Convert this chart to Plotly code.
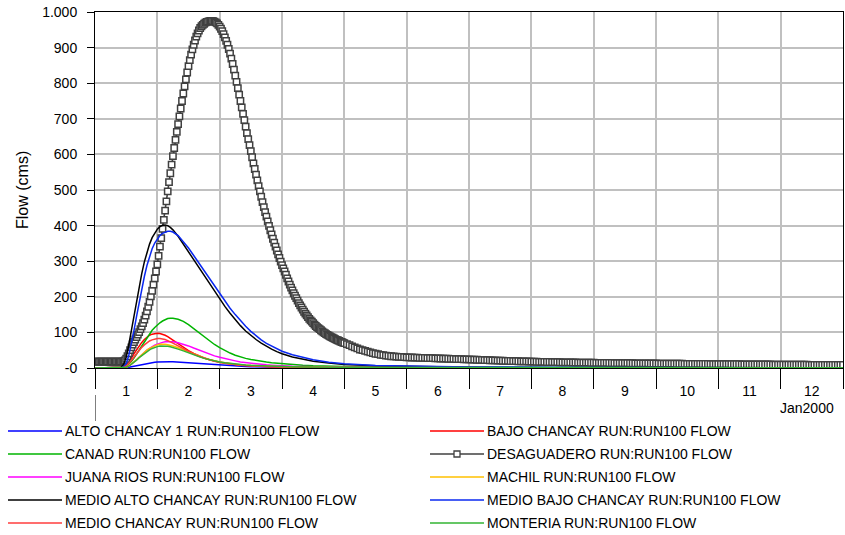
import numpy as np
import pandas as pd
import plotly.graph_objects as go

START = pd.Timestamp("2000-01-01")
DAYS = list(range(1, 13))

# ---------------- data (hours since 1 Jan 2000 00:00, flow in cms) ----------------
hours_lines = [0, 10, 11, 12, 13, 14, 15, 16, 17, 18, 19, 20, 21, 22, 23, 24, 25, 26, 27, 28, 29, 30,
               32, 34, 36, 38, 40, 42, 44, 46, 48, 50, 52, 54, 56, 58, 60, 62, 64, 66, 68, 70, 72,
               76, 80, 84, 90, 96, 108, 120, 144, 192, 288]

alto_chancay_1 = [0, 0, 0.2, 0.8, 2, 3.5, 5, 7, 9, 10.5, 12, 13.5, 14.5, 15.5, 16.3, 17, 17.5, 17.8, 18, 18, 17.8, 17.5,
                  16.5, 15.3, 14, 12.7, 11.4, 10.2, 9, 8, 7.1, 6.3, 5.6, 5, 4.4, 3.9, 3.5, 3.1, 2.8, 2.5, 2.2, 2, 1.8,
                  1.5, 1.2, 1, 0.8, 0.6, 0.45, 0.35, 0.25, 0.15, 0.1]
bajo_chancay = [0, 0, 2, 8, 17, 28, 40, 52, 63, 72, 80, 87, 92, 95, 97, 97.5, 97, 95, 92, 88, 83, 78,
                68, 58, 49, 41, 34, 28, 23, 19, 16, 13.5, 11, 9.5, 8, 7, 6, 5.3, 4.7, 4.2, 3.8, 3.4, 3,
                2.6, 2.3, 2, 1.5, 1.2, 0.9, 0.7, 0.5, 0.3, 0.2]
canad = [0, 0, 1, 4, 10, 18, 28, 39, 51, 63, 75, 86, 97, 106, 114, 121, 127, 132, 136, 139, 140, 140,
         137, 131, 122, 111, 99, 87, 76, 66, 57, 49, 42, 36, 31, 27, 24, 21, 19, 17, 15, 13.5, 12,
         10, 8, 6.5, 5, 4, 3, 2.3, 1.6, 1, 0.6]
juana_rios = [0, 0, 0.5, 2, 5, 10, 16, 23, 30, 37, 44, 50, 55, 60, 64, 67, 70, 72, 73.5, 74, 74, 73.5,
              71, 67, 62, 56, 50, 44, 39, 34, 30, 26, 23, 20, 17, 15, 13, 11.5, 10.2, 9, 8, 7, 6.2,
              5, 4.2, 3.5, 2.7, 2.1, 1.5, 1.1, 0.8, 0.5, 0.3]
machil = [0, 0, 0.5, 2, 6, 11, 17, 24, 31, 38, 44, 50, 55, 59, 62.5, 65, 66.5, 67, 66.5, 65.5, 64, 62,
          57, 51, 45, 39, 33, 28, 24, 20, 17, 14.5, 12, 10.5, 9, 8, 7, 6.2, 5.5, 5, 4.4, 3.9, 3.5,
          2.9, 2.4, 2, 1.6, 1.3, 0.9, 0.7, 0.5, 0.3, 0.2]
medio_alto_chancay = [0, 2, 10, 30, 65, 105, 148, 190, 230, 265, 298, 325, 348, 366, 380, 390, 397, 401, 402, 400, 395, 388,
                      370, 348, 325, 302, 280, 258, 236, 214, 193, 173, 154, 136, 119, 104, 91, 80, 70, 61, 53, 46, 40,
                      31, 24, 19, 14, 10, 6, 4, 2, 1, 0.5]
medio_bajo_chancay = [0, 0, 3, 12, 35, 68, 105, 145, 185, 222, 257, 288, 314, 335, 351, 363, 372, 378, 382, 384, 384, 382,
                      372, 356, 337, 316, 295, 273, 251, 229, 208, 188, 168, 150, 133, 117, 103, 90, 79, 69, 61, 53, 47,
                      37, 29, 23, 16, 12, 7, 5, 3, 1.5, 0.7]
medio_chancay = [0, 0, 1, 5, 12, 21, 31, 41, 50, 58, 65, 71, 76, 79, 81.5, 83, 83, 82, 80, 77, 74, 70,
                 62, 54, 46, 39, 33, 28, 23, 19, 16, 13.5, 11, 9.5, 8, 7, 6, 5.3, 4.7, 4.2, 3.8, 3.4, 3,
                 2.6, 2.3, 2, 1.5, 1.2, 0.9, 0.7, 0.5, 0.3, 0.2]
monteria = [0, 0, 0.5, 2, 5, 10, 16, 22, 29, 35, 41, 46, 51, 55, 58, 60, 61.5, 62, 62, 61, 59.5, 58,
            53, 48, 42, 37, 32, 27, 23, 20, 17, 14.5, 12.5, 11, 9.5, 8.5, 7.5, 6.8, 6.1, 5.5, 5, 4.5, 4.1,
            3.5, 3, 2.6, 2.2, 1.9, 1.5, 1.3, 1, 0.7, 0.5]

# DESAGUADERO: half-hourly values from hour 0.0 to hour 96.0
desaguadero_halfhourly = [18] * 21 + [
    18, 19, 21, 26, 33, 41, 50, 58, 66, 73, 80, 87, 94, 101, 109, 117, 126, 136, 147, 159,
    172, 186, 201, 217, 234, 252, 271, 291, 315, 341, 365, 391, 416, 442, 468, 496, 522, 547, 571, 595,
    618, 641, 663, 685, 707, 729, 750, 771, 791, 811, 830, 848, 865, 880, 895, 908, 920, 931, 940, 948,
    955, 960, 964, 967, 970, 972, 973, 974, 975, 975, 974, 973, 971, 968, 964, 959, 953, 946, 938, 929,
    919, 908, 896, 883, 869, 854, 838, 821, 804, 786, 768, 750, 732, 714, 696, 678, 660, 643, 626, 609,
    592, 575, 559, 543, 527, 511, 496, 481, 466, 452, 438, 425, 412, 399, 387, 375, 363, 352, 341, 330,
    319, 309, 299, 289, 280, 271, 262, 252, 243, 234, 226, 218, 210, 203, 196, 189, 182, 176, 170, 164,
    158, 153, 148, 143, 138, 134, 130, 126, 122, 118, 115, 112, 109, 106, 103, 100, 98, 95, 93, 91,
    89, 87, 85, 83, 81, 79, 78, 76, 74, 73, 71, 70]
# DESAGUADERO: hourly values from hour 97 to hour 288
desaguadero_hourly = [
    67, 64, 61, 58, 55, 52, 50, 48, 46, 44, 42, 40, 39, 37, 36, 35, 34, 33, 32.5, 32, 31.5, 31, 30.5, 30,
    29.7, 29.5, 29.2, 29, 28.7, 28.5, 28.2, 28, 27.7, 27.5, 27.2, 27, 26.7, 26.5, 26.2, 26, 25.7, 25.5, 25.2, 25, 24.7, 24.5, 24.2, 24,
    23.7, 23.5, 23.2, 23, 22.7, 22.4, 22.1, 21.8, 21.5, 21.2, 20.9, 20.6, 20.4, 20.1, 19.9, 19.6, 19.4, 19.2, 19, 18.8, 18.6, 18.4, 18.2, 18,
    17.8, 17.6, 17.4, 17.3, 17.1, 16.9, 16.8, 16.6, 16.5, 16.3, 16.2, 16, 15.9, 15.8, 15.6, 15.5, 15.4, 15.3, 15.2, 15.1, 15, 14.9, 14.8, 14.7,
    14.6, 14.5, 14.4, 14.3, 14.2, 14.1, 14, 13.9, 13.8, 13.7, 13.6, 13.5, 13.5, 13.4, 13.3, 13.2, 13.1, 13.1, 13, 12.9, 12.8, 12.7, 12.7, 12.6,
    12.5, 12.4, 12.4, 12.3, 12.2, 12.1, 12.1, 12, 11.9, 11.9, 11.8, 11.7, 11.7, 11.6, 11.5, 11.5, 11.4, 11.3, 11.3, 11.2, 11.1, 11.1, 11, 10.9,
    10.9, 10.8, 10.8, 10.7, 10.6, 10.6, 10.5, 10.5, 10.4, 10.3, 10.3, 10.2, 10.2, 10.1, 10.1, 10, 9.9, 9.9, 9.8, 9.8, 9.7, 9.7, 9.6, 9.6,
    9.5, 9.5, 9.4, 9.4, 9.3, 9.3, 9.2, 9.2, 9.1, 9.1, 9, 9, 8.9, 8.9, 8.8, 8.8, 8.8, 8.7, 8.7, 8.6, 8.6, 8.5, 8.5, 8.5]

series_names = ["ALTO CHANCAY 1 RUN:RUN100 FLOW", "BAJO CHANCAY RUN:RUN100 FLOW", "CANAD RUN:RUN100 FLOW",
                "DESAGUADERO RUN:RUN100 FLOW", "JUANA RIOS RUN:RUN100 FLOW", "MACHIL RUN:RUN100 FLOW",
                "MEDIO ALTO CHANCAY RUN:RUN100 FLOW", "MEDIO BAJO CHANCAY RUN:RUN100 FLOW",
                "MEDIO CHANCAY RUN:RUN100 FLOW", "MONTERIA RUN:RUN100 FLOW"]
series_colors = ["#0000FF", "#FF0000", "#00B400", "#404040", "#FF00FF", "#FFC000",
                 "#000000", "#0A28F0", "#FF3C3C", "#32B432"]

y_tickvals = [0, 100, 200, 300, 400, 500, 600, 700, 800, 900, 1000]
y_ticktext = ["-0", "100", "200", "300", "400", "500", "600", "700", "800", "900", "1.000"]

# ---------------- build ----------------
assert len(desaguadero_halfhourly) == 193 and len(desaguadero_hourly) == 192


def to_time(hours):
    return [START + pd.Timedelta(hours=float(h)) for h in hours]


t_lines = to_time(hours_lines)
desag_hours = list(np.arange(0, 96.5, 0.5)) + list(range(97, 289))
t_desag = to_time(desag_hours)
desag_vals = desaguadero_halfhourly + desaguadero_hourly

line_data = [alto_chancay_1, bajo_chancay, canad, None, juana_rios, machil,
             medio_alto_chancay, medio_bajo_chancay, medio_chancay, monteria]

FONT = "Liberation Sans, Arial, sans-serif"
fig = go.Figure()
for name, col, vals in zip(series_names, series_colors, line_data):
    if vals is None:
        fig.add_trace(go.Scatter(x=t_desag, y=desag_vals, mode="lines+markers", name=name,
                                 line=dict(color=col, width=1.6),
                                 marker=dict(symbol="square", size=6.3, color="white",
                                             line=dict(color=col, width=1.5)),
                                 showlegend=False))
    else:
        fig.add_trace(go.Scatter(x=t_lines, y=vals, mode="lines", name=name,
                                 line=dict(color=col, width=1.5), showlegend=False))

L, R, T, B = 95, 843, 12, 368
W, H = R - L, B - T


def px_x(px):
    return (px - L) / W


def px_y(py):
    return (B - py) / H


shapes = []
annotations = []
rows_y = [431, 454, 477, 500, 523]
for i, (name, col) in enumerate(zip(series_names, series_colors)):
    col_i, row_i = i % 2, i // 2
    x0, x1, xt = (8, 62, 63) if col_i == 0 else (430, 484, 485)
    y = rows_y[row_i]
    shapes.append(dict(type="line", xref="paper", yref="paper", x0=px_x(x0), x1=px_x(x1),
                       y0=px_y(y), y1=px_y(y), line=dict(color=col, width=1.5)))
    if name.startswith("DESAGUADERO"):
        xm = (x0 + x1) / 2
        shapes.append(dict(type="rect", xref="paper", yref="paper", x0=px_x(xm - 3), x1=px_x(xm + 3),
                           y0=px_y(y + 3), y1=px_y(y - 3), fillcolor="white",
                           line=dict(color=col, width=1.3)))
    annotations.append(dict(text=name, xref="paper", yref="paper", x=px_x(xt), y=px_y(y),
                            xanchor="left", yanchor="middle", showarrow=False,
                            font=dict(family=FONT, size=14, color="black")))

# long month tick at the start of the axis
shapes.append(dict(type="line", xref="x", yref="paper", x0=START, x1=START,
                   y0=px_y(395), y1=px_y(421), line=dict(color="black", width=1)))
annotations.append(dict(text="Jan2000", xref="paper", yref="paper", x=px_x(836), y=px_y(408),
                        xanchor="right", yanchor="middle", showarrow=False,
                        font=dict(family=FONT, size=14, color="black")))
annotations.append(dict(text="Flow (cms)", xref="paper", yref="paper", x=px_x(22), y=0.5,
                        xanchor="center", yanchor="middle", textangle=-90, showarrow=False,
                        font=dict(family=FONT, size=16, color="black")))

fig.update_layout(
    width=845, height=535, autosize=False,
    margin=dict(l=L, r=845 - R, t=T, b=535 - B),
    paper_bgcolor="white", plot_bgcolor="white",
    font=dict(family=FONT, size=14, color="black"),
    shapes=shapes, annotations=annotations, showlegend=False,
    xaxis=dict(type="date", range=[START, START + pd.Timedelta(days=len(DAYS))],
               showline=True, linecolor="black", linewidth=1, mirror=True,
               ticks="outside", ticklen=20, tickcolor="black", tickwidth=1,
               dtick=86400000, tick0=START, tickformat="%-d", ticklabelmode="period",
               ticklabelstandoff=-10,
               showgrid=True, gridcolor="#C0C0C0", gridwidth=1.5, zeroline=False,
               tickfont=dict(family=FONT, size=14, color="black")),
    yaxis=dict(range=[0, 1000], tickmode="array", tickvals=y_tickvals, ticktext=y_ticktext,
               showline=True, linecolor="black", linewidth=1, mirror=True,
               ticks="outside", ticklen=7, tickcolor="black", tickwidth=1,
               ticklabelstandoff=7,
               showgrid=True, gridcolor="#C0C0C0", gridwidth=1.5, zeroline=False,
               tickfont=dict(family=FONT, size=14, color="black")),
)

fig.write_html("out.html", config={"displayModeBar": False},
               post_script="document.body.style.margin='0';document.body.style.overflow='hidden';")
